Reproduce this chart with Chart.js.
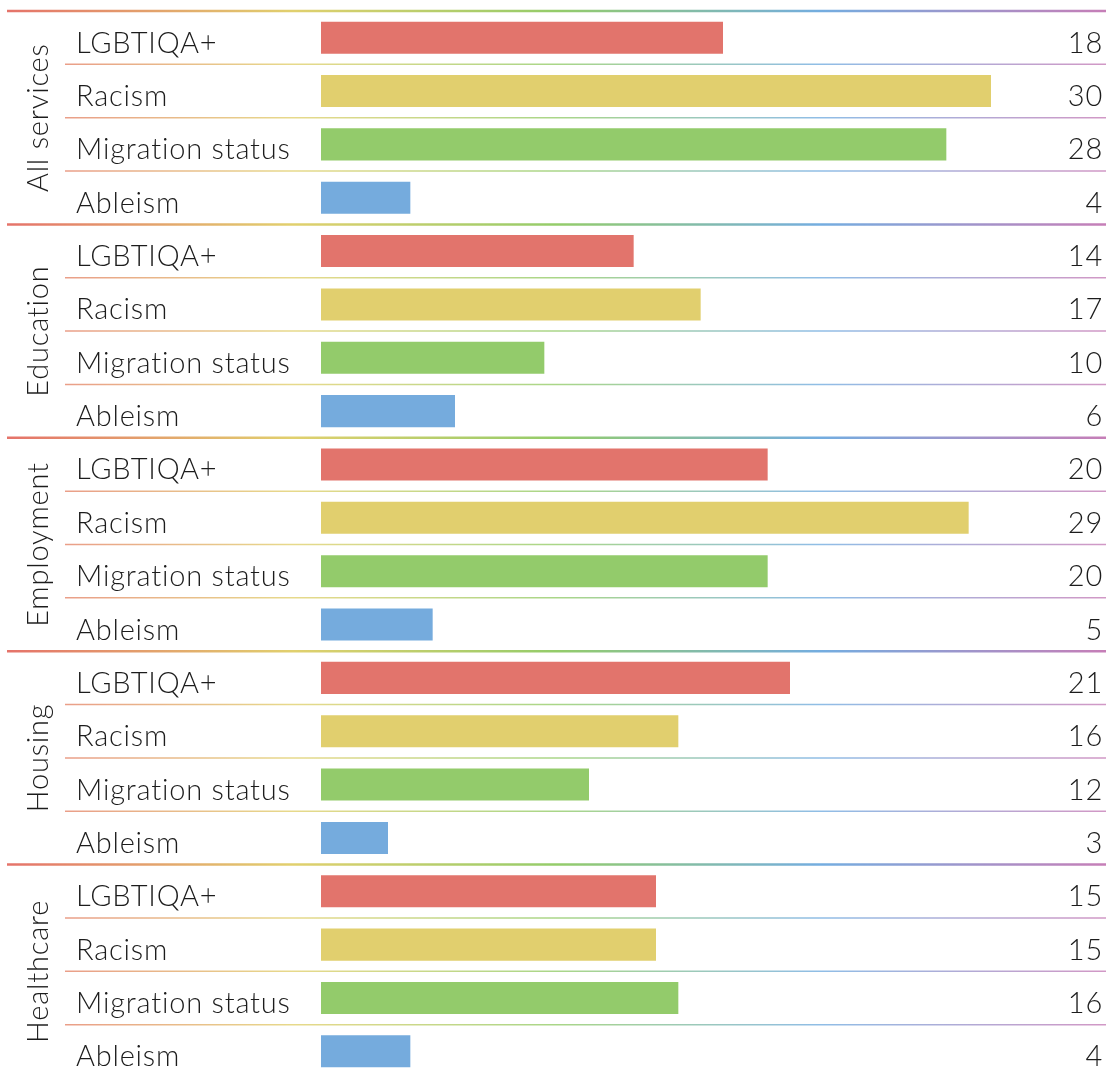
<!DOCTYPE html>
<html>
<head>
<meta charset="utf-8">
<script src="https://cdn.jsdelivr.net/npm/chart.js@4"></script>
<style>
  html, body { margin: 0; padding: 0; background: #fff; }
  #wrap { width: 1106px; height: 1079px; position: relative; }
</style>
</head>
<body>
<div id="wrap"><canvas id="chart"></canvas></div>
<script>
const groups = ["All services", "Education", "Employment", "Housing", "Healthcare"];
const issues = ["LGBTIQA+", "Racism", "Migration status", "Ableism"];
const allServices = [18, 30, 28, 4];
const education = [14, 17, 10, 6];
const employment = [20, 29, 20, 5];
const housing = [21, 16, 12, 3];
const healthcare = [15, 15, 16, 4];
const issueColors = ["#e2746c", "#e1cf6e", "#93cb6b", "#75abdd"];

const FONT = "Lato, 'Noto Sans', sans-serif";
const TEXT = "#1c1c1c";

// one row per (group, issue) pair
const groupValues = [allServices, education, employment, housing, healthcare];
const rowLabels = [];
const rowValues = [];
const rowColors = [];
groups.forEach((g, gi) => {
  issues.forEach((iss, ii) => {
    rowLabels.push(iss);
    rowValues.push(groupValues[gi][ii]);
    rowColors.push(issueColors[ii]);
  });
});

function rainbow(ctx, x0, x1) {
  const grad = ctx.createLinearGradient(x0, 0, x1, 0);
  grad.addColorStop(0, "#e5736a");
  grad.addColorStop(0.26, "#e1d06e");
  grad.addColorStop(0.5, "#94cc6a");
  grad.addColorStop(0.74, "#74ade0");
  grad.addColorStop(1, "#c67eb7");
  return grad;
}

const rowsPlugin = {
  id: "rows",
  afterDraw(chart) {
    const ctx = chart.ctx;
    const y = chart.scales.y;
    const w = chart.width;
    const half = (y.getPixelForValue(1) - y.getPixelForValue(0)) / 2;
    ctx.save();

    // separators: thick above each group, thin between rows
    rowLabels.forEach((lab, i) => {
      const top = y.getPixelForValue(i) - half;
      ctx.beginPath();
      if (i % 4 === 0) {
        ctx.globalAlpha = 1;
        ctx.lineWidth = 2.5;
        ctx.moveTo(7, top);
      } else {
        ctx.globalAlpha = 0.8;
        ctx.lineWidth = 1.5;
        ctx.moveTo(65, top);
      }
      ctx.lineTo(w, top);
      ctx.strokeStyle = rainbow(ctx, 7, w);
      ctx.stroke();
    });
    ctx.globalAlpha = 1;

    // row labels and values
    ctx.fillStyle = TEXT;
    ctx.font = `300 29px ${FONT}`;
    ctx.letterSpacing = "0.8px";
    ctx.textBaseline = "alphabetic";
    rowLabels.forEach((lab, i) => {
      const cy = y.getPixelForValue(i) + 15;
      ctx.textAlign = "left";
      ctx.fillText(lab, 76, cy);
      ctx.textAlign = "right";
      ctx.fillText(String(rowValues[i]), 1103, cy);
    });

    // group titles, rotated
    groups.forEach((g, gi) => {
      const cy = (y.getPixelForValue(gi * 4) + y.getPixelForValue(gi * 4 + 3)) / 2;
      ctx.save();
      ctx.translate(48, cy);
      ctx.rotate(-Math.PI / 2);
      ctx.textAlign = "center";
      ctx.fillText(g, 0, 0);
      ctx.restore();
    });
    ctx.restore();
  }
};

new Chart(document.getElementById("chart"), {
  type: "bar",
  data: {
    labels: rowLabels,
    datasets: [{
      data: rowValues,
      backgroundColor: rowColors,
      borderWidth: 0,
      barPercentage: 0.6,
      categoryPercentage: 1
    }]
  },
  options: {
    indexAxis: "y",
    responsive: true,
    maintainAspectRatio: false,
    animation: false,
    layout: { padding: { left: 321, right: 115, top: 11, bottom: 1 } },
    plugins: { legend: { display: false }, tooltip: { enabled: false } },
    scales: {
      x: { display: false, min: 0, max: 30 },
      y: { display: false }
    }
  },
  plugins: [rowsPlugin]
});
</script>
</body>
</html>
